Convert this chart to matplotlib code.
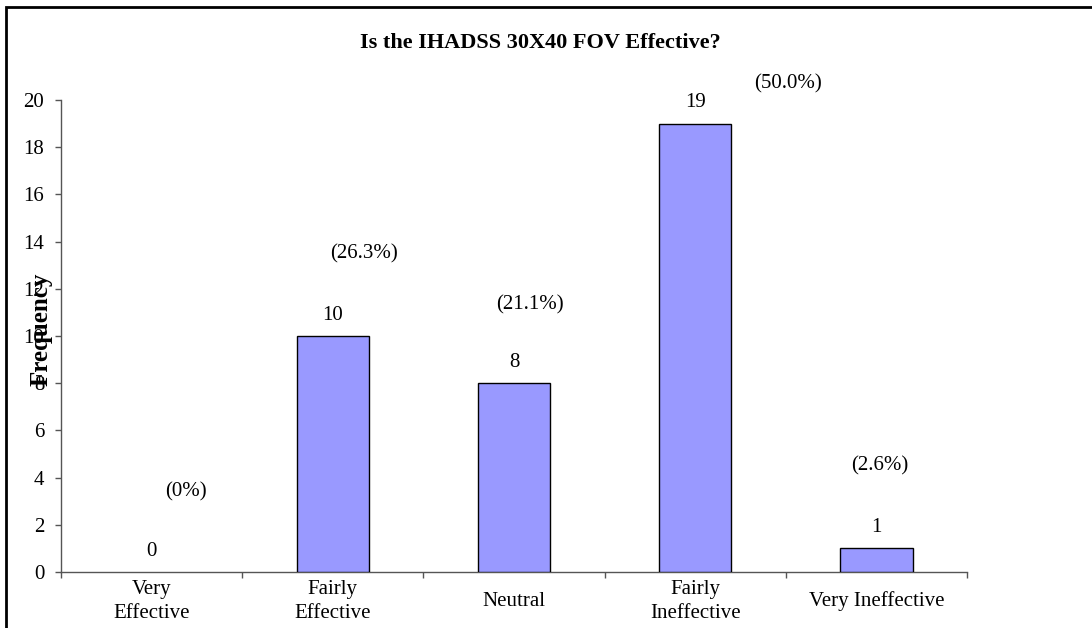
import matplotlib.pyplot as plt
from matplotlib.patches import Rectangle
import numpy as np

# data
categories = ['Very\nEffective', 'Fairly\nEffective', 'Neutral', 'Fairly\nIneffective', 'Very Ineffective']
counts = [0, 10, 8, 19, 1]
percents = ['(0%)', '(26.3%)', '(21.1%)', '(50.0%)', '(2.6%)']

# where the percent labels sit (x shift in category units, y in data units)
pct_dx = [0.19, 0.17, 0.09, 0.51, 0.02]
pct_y = [3.4, 13.5, 11.3, 20.7, 4.5]

plt.rcParams['font.family'] = ['Liberation Serif', 'DejaVu Serif']
fs = 15

fig = plt.figure(figsize=(10.92, 6.28), dpi=100)
ax = fig.add_axes([61/1092, 1 - 572/628, (967-61)/1092, (572-100)/628])

x = np.arange(len(categories))
edges = ['black' if c > 0 else 'none' for c in counts]
ax.bar(x, counts, width=0.4, color='#9999FF', edgecolor=edges, linewidth=1.0, zorder=3)

for i in range(len(counts)):
    ax.annotate(str(counts[i]), (x[i], counts[i]), xytext=(0, 15), textcoords='offset points',
                ha='center', va='center', fontsize=fs)
    ax.text(x[i] + pct_dx[i], pct_y[i], percents[i], ha='center', va='center', fontsize=fs)

ax.set_xlim(-0.5, len(categories) - 0.5)
ax.set_ylim(0, 20)
ax.set_yticks(np.arange(0, 21, 2))
ax.tick_params(axis='y', direction='out', length=4, width=1, color='#555555', labelsize=fs, pad=8)

# major ticks on category boundaries, labels on the minor ones
ax.set_xticks(np.arange(-0.5, len(categories), 1.0))
ax.set_xticklabels([])
ax.tick_params(axis='x', which='major', direction='out', length=4, width=1, color='#555555')
ax.set_xticks(x, minor=True)
ax.set_xticklabels(categories, minor=True, fontsize=fs)
ax.tick_params(axis='x', which='minor', length=0, pad=21)
for lab in ax.get_xticklabels(minor=True):
    lab.set_verticalalignment('center')
    lab.set_linespacing(1.35)

for s in ['top', 'right']:
    ax.spines[s].set_visible(False)
for s in ['left', 'bottom']:
    ax.spines[s].set_color('#555555')
    ax.spines[s].set_linewidth(1)

ax.set_ylabel('Frequency', fontsize=18, fontweight='bold', va='center')
ax.yaxis.set_label_coords(-0.0225, 0.515)

fig.text(540/1092, 1 - 43/628, 'Is the IHADSS 30X40 FOV Effective?', ha='center', va='center',
         fontsize=16, fontweight='bold')

# outer chart border (runs off the right and bottom edges)
fig.patches.append(Rectangle((6/1092, -0.1), 1.2, 1.1 - 7/628, transform=fig.transFigure,
                             fill=False, edgecolor='black', linewidth=2))

fig.savefig('out.png', dpi=100)
